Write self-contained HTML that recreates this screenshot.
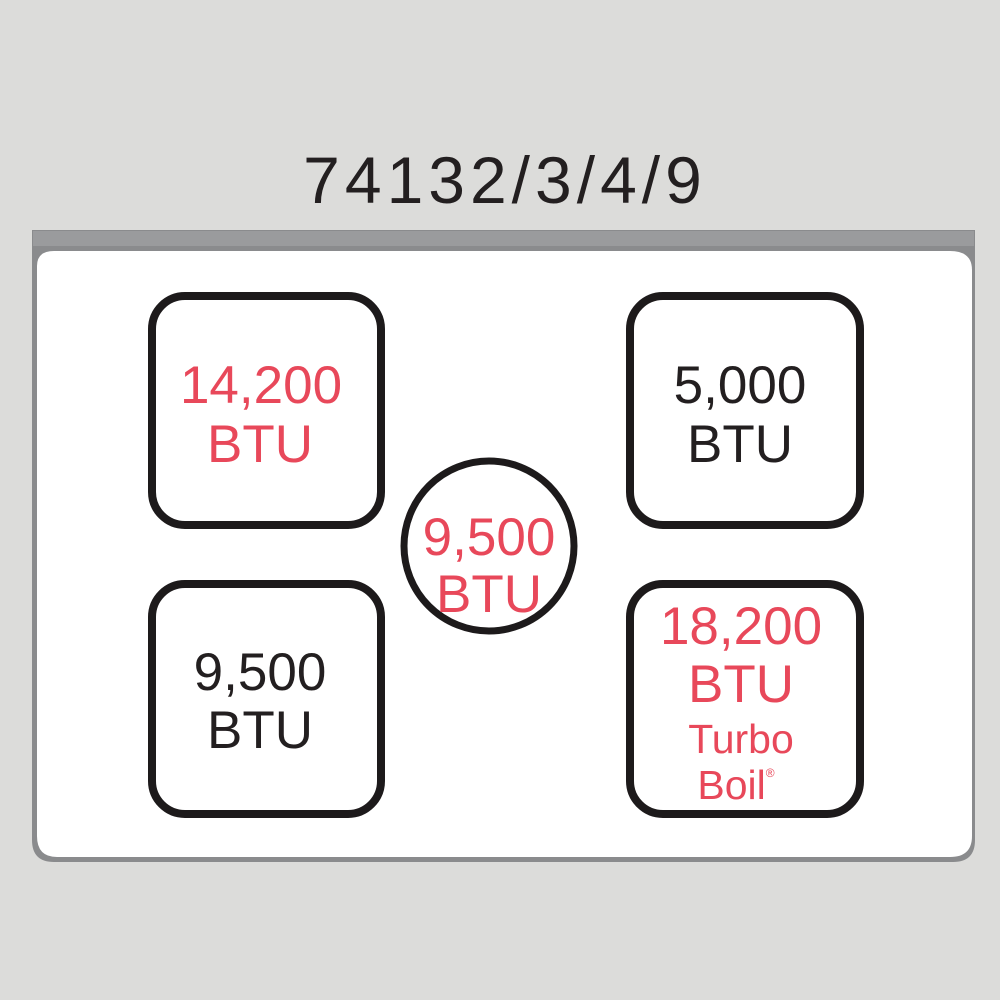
<!DOCTYPE html>
<html><head><style>
html,body{margin:0;padding:0;background:#dcdcda;}
svg{display:block}
</style></head><body>
<svg width="1000" height="1000" viewBox="0 0 1000 1000" xmlns="http://www.w3.org/2000/svg">
<rect width="1000" height="1000" fill="#dcdcda"/>
<text x="505" y="203" text-anchor="middle" font-family="Liberation Sans, sans-serif" font-size="66" fill="#231f20" letter-spacing="5">74132/3/4/9</text>
<path d="M32 230 H975 V840 Q975 862 953 862 H54 Q32 862 32 840 Z" fill="#8a8b8d"/>
<path d="M33 231 H974 V246 H33 Z" fill="#9a9b9d"/>
<path d="M37 266 Q37 251 54 251 H950 Q972 251 972 270 V836 Q972 857 950 857 H57 Q37 857 37 836 Z" fill="#fff"/>
<g fill="none" stroke="#1d1a1b" stroke-width="8">
<rect x="152" y="296" width="229" height="229" rx="33"/>
<rect x="630" y="296" width="230" height="229" rx="33"/>
<rect x="152" y="584" width="229" height="230" rx="33"/>
<rect x="630" y="584" width="230" height="230" rx="33"/>
<circle cx="489" cy="546" r="85" stroke-width="7"/>
</g>
<g font-family="Liberation Sans, sans-serif" font-size="53" text-anchor="middle">
<text x="261" y="403" fill="#e8485a">14,200</text>
<text x="260" y="462" fill="#e8485a">BTU</text>
<text x="740" y="403" fill="#231f20">5,000</text>
<text x="740" y="462" fill="#231f20">BTU</text>
<text x="489" y="555" fill="#e8485a">9,500</text>
<text x="489" y="612" fill="#e8485a">BTU</text>
<text x="260" y="690" fill="#231f20">9,500</text>
<text x="260" y="748" fill="#231f20">BTU</text>
<text x="741" y="644" fill="#e8485a">18,200</text>
<text x="741" y="702" fill="#e8485a">BTU</text>
<text x="741" y="753" fill="#e8485a" font-size="41">Turbo</text>
<text x="736" y="799" fill="#e8485a" font-size="41">Boil<tspan font-size="12" dy="-22">®</tspan></text>
</g>
</svg>
</body></html>
